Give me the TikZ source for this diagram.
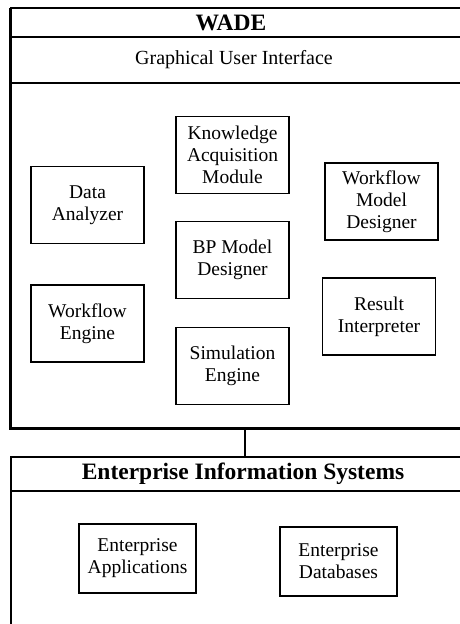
\documentclass[tikz,border=0pt]{standalone}
\usepackage{fontspec}
\setmainfont{Liberation Serif}
\usetikzlibrary{positioning}
\tikzset{
  modbox/.style={
    draw, line width=1.6pt, align=center,
    minimum width=113pt, minimum height=77pt, inner sep=2pt,
    font=\fontsize{19.5}{22}\selectfont
  },
  eisbox/.style={modbox, minimum width=117pt, minimum height=69pt},
  headtext/.style={font=\fontsize{23.5}{26}\selectfont\bfseries},
  subtext/.style={font=\fontsize{20}{22}\selectfont},
  frameline/.style={line width=1.6pt},
  heavyline/.style={line width=3pt, line join=miter},
}

\begin{document}
\begin{tikzpicture}[x=1pt, y=-1pt]
  \useasboundingbox (0,0) rectangle (460,624);
  \clip (0,0) rectangle (460,624);
  % WADE frame
  \draw[frameline] (470,8) -- (10,8);
  \draw[heavyline] (10,8) -- (10,428) -- (470,428);
  \draw[frameline] (10,37) -- (470,37);
  \draw[frameline] (10,83) -- (470,83);
  \node[headtext] (wade) at (231,22.5) {WADE};
  \node[subtext] (gui) at (234,60) {Graphical User Interface};
  \node[modbox] (kam) at (232.5,155) {Knowledge\\Acquisition\\Module};
  \node[modbox] (analyzer) at (87.5,205) {Data\\Analyzer};
  \node[modbox] (wfdesigner) at (381.5,201.5) {Workflow\\Model\\Designer};
  \node[modbox] (bpdesigner) at (232.5,260) {BP Model\\Designer};
  \node[modbox] (wfengine) at (87.5,323.5) {Workflow\\Engine};
  \node[modbox] (interpreter) at (379,316.5) {Result\\Interpreter};
  \node[modbox] (simengine) at (232.5,366) {Simulation\\Engine};
  % EIS frame
  \draw[frameline] (11,640) -- (11,457) -- (470,457);
  \draw[frameline] (11,491) -- (470,491);
  \node[headtext] (eis) at (243,474) {Enterprise Information Systems};
  \node[eisbox] (entapps) at (137.5,558.5) {Enterprise\\Applications};
  \node[eisbox] (entdbs) at (338.5,561.5) {Enterprise\\Databases};
  \coordinate (wadelink) at (245,428);
  \coordinate (eislink) at (245,457);
  \draw[frameline] (wadelink) -- (eislink);
\end{tikzpicture}
\end{document}
